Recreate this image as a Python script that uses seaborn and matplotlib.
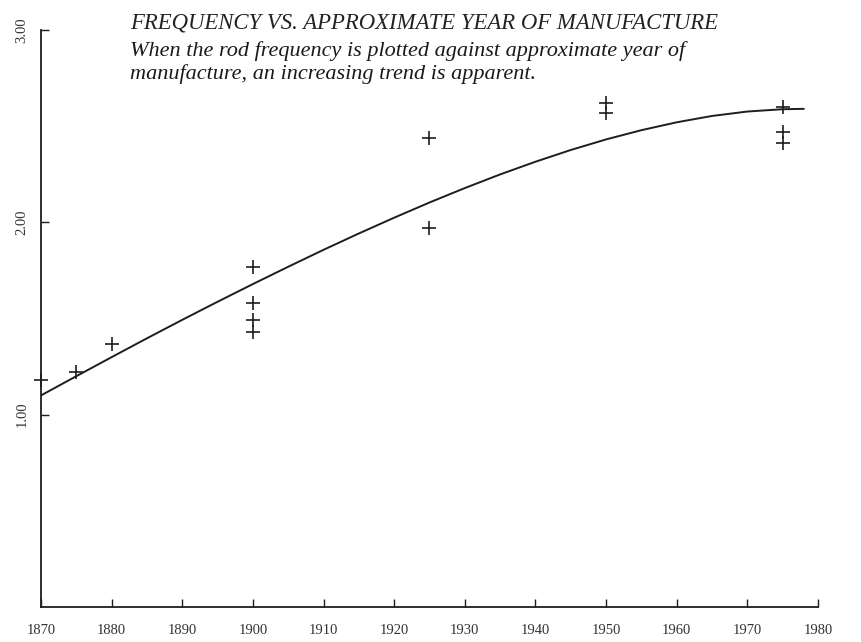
import pandas as pd
import seaborn as sns
import matplotlib.pyplot as plt

# measured rods: approximate year of manufacture and frequency
years = [1870, 1875, 1880, 1900, 1900, 1900, 1900, 1925, 1925, 1950, 1950, 1975, 1975, 1975]
freq = [1.18, 1.22, 1.37, 1.77, 1.58, 1.49, 1.43, 2.44, 1.97, 2.62, 2.57, 2.60, 2.47, 2.41]

# trend curve
curve_years = [1870, 1875, 1880, 1885, 1890, 1895, 1900, 1905, 1910, 1915, 1920, 1925, 1930,
               1935, 1940, 1945, 1950, 1955, 1960, 1965, 1970, 1975, 1978]
curve_freq = [1.100, 1.200, 1.299, 1.397, 1.493, 1.587, 1.679, 1.769, 1.857, 1.942, 2.024,
              2.103, 2.178, 2.249, 2.315, 2.376, 2.431, 2.479, 2.520, 2.553, 2.576, 2.588, 2.590]

x_ticks = list(range(1870, 1981, 10))
y_ticks = [1.0, 2.0, 3.0]
y_labels = ["1.00", "2.00", "3.00"]

title = "FREQUENCY VS. APPROXIMATE YEAR OF MANUFACTURE"
subtitle_1 = "When the rod frequency is plotted against approximate year of"
subtitle_2 = "manufacture, an increasing trend is apparent."

df = pd.DataFrame({"year": years, "freq": freq})
df_curve = pd.DataFrame({"year": curve_years, "freq": curve_freq})

sns.set_style("white")
plt.rcParams["font.family"] = ["Liberation Serif", "DejaVu Serif"]

ink = "#1e1e1e"
fig = plt.figure(figsize=(8.61, 6.42), dpi=100)
ax = fig.add_axes([0.0476, 0.0545, 0.9024, 0.8988])

sns.lineplot(data=df_curve, x="year", y="freq", ax=ax, color=ink, linewidth=1.4)
sns.scatterplot(data=df, x="year", y="freq", ax=ax, marker="+", s=110,
                color=ink, linewidth=1.2, clip_on=False, zorder=3)

ax.set_xlim(1870, 1980)
ax.set_ylim(0, 3.0)
ax.set_xticks(x_ticks)
ax.set_xticklabels([str(t) for t in x_ticks], fontsize=10.5, color="#333333")
ax.set_yticks(y_ticks)
ax.set_yticklabels(y_labels, fontsize=10.5, color="#333333", rotation=90, va="center")
ax.tick_params(axis="both", direction="in", length=6, width=1, color=ink,
               bottom=True, left=True)
ax.tick_params(axis="x", pad=12)
ax.tick_params(axis="y", pad=9)
ax.set_xlabel("")
ax.set_ylabel("")

for s in ["top", "right"]:
    ax.spines[s].set_visible(False)
for s in ["left", "bottom"]:
    ax.spines[s].set_color(ink)
    ax.spines[s].set_linewidth(1.3)

fig.text(0.151, 1 - 28 / 642, title, fontsize=16.4, style="italic", color="#222222",
         va="baseline")
fig.text(0.151, 1 - 56 / 642, subtitle_1, fontsize=16, style="italic", color="#1a1a1a",
         va="baseline")
fig.text(0.151, 1 - 79 / 642, subtitle_2, fontsize=16, style="italic", color="#1a1a1a",
         va="baseline")

fig.savefig("out.png", dpi=100, facecolor="white")
